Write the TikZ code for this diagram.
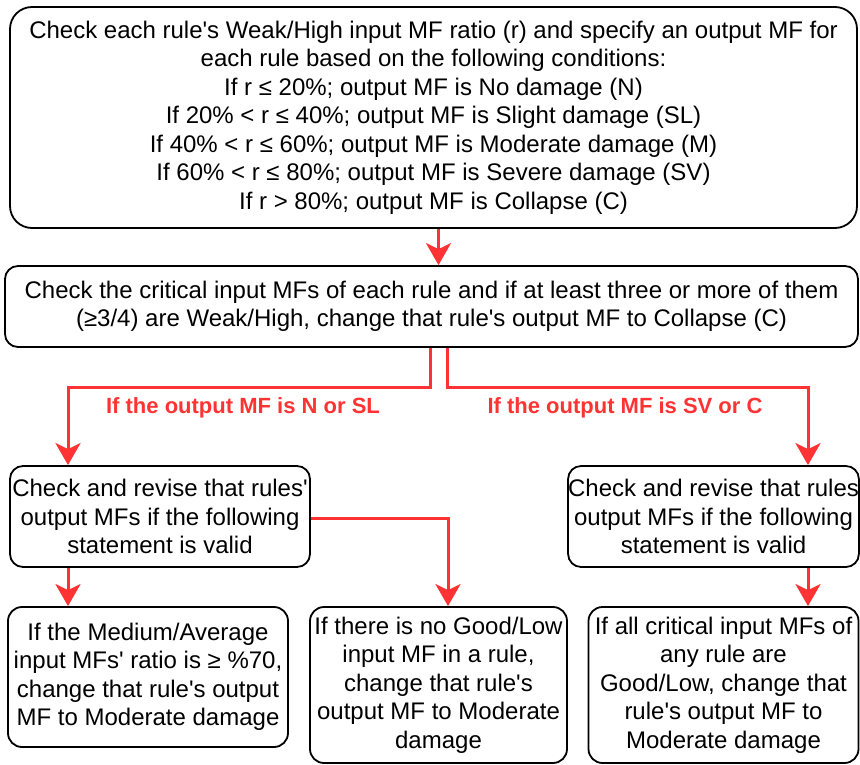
\documentclass[tikz,border=0pt]{standalone}
\usepackage{fontspec}
\setmainfont{Liberation Sans}
\usetikzlibrary{arrows.meta}
\definecolor{arrred}{RGB}{255,51,51}
\newcommand{\q}{\textquotesingle}
\begin{document}
\begin{tikzpicture}[x=1pt,y=-1pt,
  box/.style={draw=black,line width=1.8pt,align=center,inner sep=0pt,
    font=\fontsize{24}{28.5}\selectfont},
  arr/.style={draw=arrred,line width=3pt,
    -{Stealth[length=22pt,width=25pt,inset=6pt]}},
  lbl/.style={text=arrred,font=\fontsize{22}{24}\selectfont\bfseries}]
\useasboundingbox (0,0) rectangle (860,765);
\node[box,rounded corners=22pt,minimum width=847pt,minimum height=221pt] (b1) at (433.5,117.5)
 {Check each rule\q s Weak/High input MF ratio (r) and specify an output MF for\\
  each rule based on the following conditions:\\
  If r ≤ 20\%; output MF is No damage (N)\\
  If 20\% < r ≤ 40\%; output MF is Slight damage (SL)\\
  If 40\% < r ≤ 60\%; output MF is Moderate damage (M)\\
  If 60\% < r ≤ 80\%; output MF is Severe damage (SV)\\
  If r > 80\%; output MF is Collapse (C)};
\node[box,rounded corners=13pt,minimum width=853pt,minimum height=81pt] (b2) at (431.5,306.5)
 {Check the critical input MFs of each rule and if at least three or more of them\\
  (≥3/4) are Weak/High, change that rule\q s output MF to Collapse (C)};
\node[box,rounded corners=13pt,minimum width=300pt,minimum height=101pt] (l1) at (160,516.5)
 {Check and revise that rules\q\\ output MFs if the following\\ statement is valid};
\node[box,rounded corners=13pt,minimum width=290pt,minimum height=101pt] (r1) at (713.5,516.5)
 {Check and revise that rules\\ output MFs if the following\\ statement is valid};
\node[box,rounded corners=14pt,minimum width=280pt,minimum height=140pt] (l2) at (148,677)
 {If the Medium/Average\\ input MFs\q\ ratio is ≥ \%70,\\ change that rule\q s output\\ MF to Moderate damage};
\node[box,rounded corners=14pt,minimum width=257pt,minimum height=156pt] (m2) at (438.5,685)
 {If there is no Good/Low\\ input MF in a rule,\\ change that rule\q s\\ output MF to Moderate\\ damage};
\node[box,rounded corners=14pt,minimum width=270pt,minimum height=156pt] (r2) at (723.5,685)
 {If all critical input MFs of\\ any rule are\\ Good/Low, change that\\ rule\q s output MF to\\ Moderate damage};
\node[lbl] (t1) at (243,408) {If the output MF is N or SL};
\node[lbl] (t2) at (625,408) {If the output MF is SV or C};
\draw[arr] ([xshift=5pt]b1.south) -- ([xshift=7pt]b2.north);
\draw[arr] ([xshift=-1.5pt]b2.south) -- ++(0,40) -| ([xshift=-92pt]l1.north);
\draw[arr] ([xshift=15.5pt]b2.south) -- ++(0,40) -| ([xshift=94.5pt]r1.north);
\draw[arr] ([yshift=-1.5pt]l1.east) -| ([xshift=9.5pt]m2.north);
\draw[arr] ([xshift=-92pt]l1.south) -- ([xshift=-80pt]l2.north);
\draw[arr] ([xshift=94.5pt]r1.south) -- ([xshift=84.5pt]r2.north);
\end{tikzpicture}
\end{document}
